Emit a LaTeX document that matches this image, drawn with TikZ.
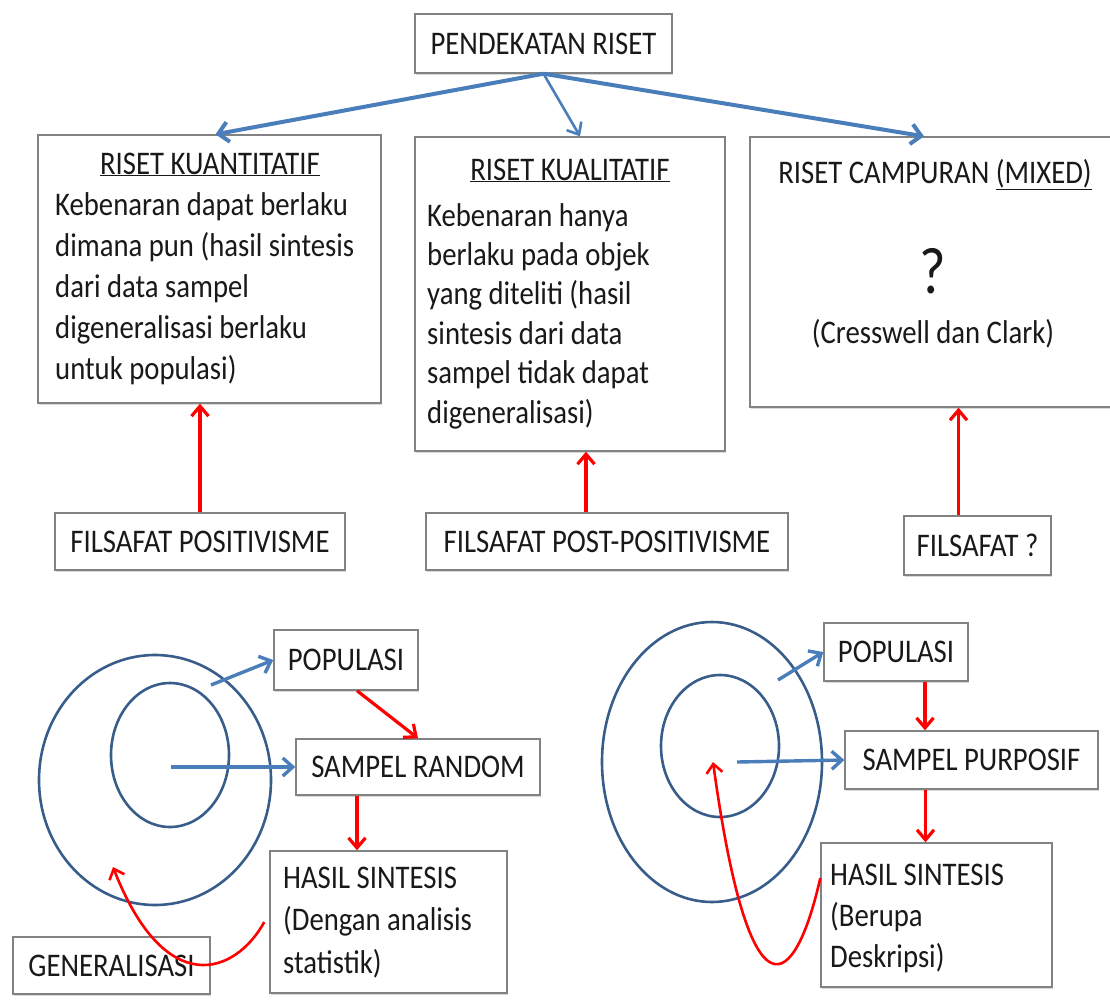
\documentclass[tikz,border=0pt]{standalone}
\usepackage{fontspec}
\setmainfont{Carlito}[FakeStretch=0.87]
\usepackage{tikz}
\usetikzlibrary{arrows.meta, shadows}
\definecolor{arrowblue}{RGB}{74,126,187}
\definecolor{ringblue}{RGB}{56,93,138}
\definecolor{boxgray}{RGB}{130,130,130}
\definecolor{textgray}{RGB}{25,25,25}
\tikzstyle{box} = [rectangle, draw=boxgray, line width=1.4pt, fill=white, inner sep=0pt, text=textgray, drop shadow={shadow xshift=1.2pt, shadow yshift=-1.8pt, opacity=0.3}]
\tikzstyle{txt} = [inner sep=0pt, text=textgray]
\tikzstyle{ring} = [draw=ringblue, line width=2.6pt]
\newcommand{\bigtxt}{\fontsize{33}{41}\selectfont}
\newcommand{\leftlines}[1]{\begin{tabular}[t]{@{}l@{}}#1\end{tabular}}

\begin{document}
\begin{tikzpicture}[x=1pt, y=-1pt, font=\bigtxt]
\useasboundingbox (0,0) rectangle (1110,999);
\clip (0,0) rectangle (1110,999);

\node (pend) [box, minimum width=257pt, minimum height=59pt] at (543.5,43.5) {PENDEKATAN RISET};

\node (kuant) [box, minimum width=343pt, minimum height=268pt] at (209.5,269) {};
\node (kuantT) [txt, anchor=base] at (210,174) {\underline{RISET KUANTITATIF}};
\node (kuantB) [txt, anchor=base west] at (55,215) {\leftlines{Kebenaran dapat berlaku\\dimana pun (hasil sintesis\\dari data sampel\\digeneralisasi berlaku\\untuk populasi)}};

\node (kual) [box, minimum width=310pt, minimum height=314pt] at (570,294) {};
\node (kualT) [txt, anchor=base] at (570,180) {\underline{RISET KUALITATIF}};
\node (kualB) [txt, anchor=base west, font=\fontsize{33}{39.4}\selectfont] at (427,226) {\leftlines{Kebenaran hanya\\berlaku pada objek\\yang diteliti (hasil\\sintesis dari data\\sampel tidak dapat\\digeneralisasi)}};

\node (mix) [box, minimum width=370pt, minimum height=270pt] at (935,272) {};
\node (mixT) [txt, anchor=base] at (935,183) {RISET CAMPURAN \underline{(MIXED)}};
\node (mixQ) [txt, anchor=base, font=\fontsize{66}{80}\selectfont] at (933,293) {?};
\node (mixC) [txt, anchor=base] at (933,343) {(Cresswell dan Clark)};

\node (fpos) [box, minimum width=290pt, minimum height=57pt] at (200,541.5) {FILSAFAT POSITIVISME};
\node (fpost) [box, minimum width=362pt, minimum height=57pt] at (607,541.5) {FILSAFAT POST-POSITIVISME};
\node (fmix) [box, minimum width=147pt, minimum height=59pt] at (977.5,545.5) {FILSAFAT ?};

\draw[arrowblue, line width=4pt, -{Straight Barb[length=10pt,width=20pt]}] (pend.south) -- ([xshift=6pt]kuant.north);
\draw[arrowblue, line width=2.6pt, -{Straight Barb[length=10pt,width=17pt]}] (pend.south) -- ([xshift=10pt]kual.north);
\draw[arrowblue, line width=4pt, -{Straight Barb[length=10pt,width=20pt]}] (pend.south) -- ([xshift=-11pt]mix.north);

\draw[red, line width=3.2pt, -{Straight Barb[length=10pt,width=17pt]}] (fpos.north) -- (fpos.north |- kuant.south);
\draw[red, line width=3.2pt, -{Straight Barb[length=10pt,width=17pt]}] ([xshift=-21pt]fpost.north) -- ([xshift=-21pt]fpost.north |- kual.south);
\draw[red, line width=3.2pt, -{Straight Barb[length=10pt,width=17pt]}] ([xshift=-19pt]fmix.north) -- ([xshift=-19pt]fmix.north |- mix.south);

\draw[ring] (155,780) ellipse [x radius=116pt, y radius=125pt];
\draw[ring] (170,755) ellipse [x radius=59pt, y radius=72pt];
\coordinate (ringA1) at (211,685);
\coordinate (ringA2) at (171,767);
\coordinate (ringA3) at (113,867);

\node (popA) [box, minimum width=144pt, minimum height=60pt] at (346,660) {POPULASI};
\node (sampA) [box, minimum width=244pt, minimum height=56pt] at (418,767) {SAMPEL RANDOM};
\node (hasilA) [box, minimum width=237pt, minimum height=142pt] at (388.5,922) {};
\node (hasilAT) [txt, anchor=base west, font=\fontsize{33}{42.5}\selectfont] at (283,888) {\leftlines{HASIL SINTESIS\\(Dengan analisis\\statistik)}};
\node (gen) [box, minimum width=197pt, minimum height=57pt] at (111.5,965.5) {GENERALISASI};

\draw[arrowblue, line width=3.4pt, -{Straight Barb[length=10pt,width=18pt]}] (ringA1) -- (popA.west);
\draw[arrowblue, line width=3.4pt, -{Straight Barb[length=10pt,width=18pt]}] (ringA2) -- (sampA.west);
\draw[red, line width=3.2pt, -{Straight Barb[length=10pt,width=17pt]}] ([xshift=11pt]popA.south) -- (sampA.north);
\draw[red, line width=3.2pt, -{Straight Barb[length=10pt,width=17pt]}] ([xshift=-61pt]sampA.south) -- ([xshift=-61pt]sampA.south |- hasilA.north);
\draw[red, line width=2.6pt, -{Straight Barb[length=9pt,width=16pt]}] ([xshift=-5pt]hasilA.west) .. controls (235,975) and (165,1000) .. (ringA3);

\draw[ring] (712,762) ellipse [x radius=110pt, y radius=140pt];
\draw[ring] (720,746) ellipse [x radius=59pt, y radius=71pt];
\coordinate (ringB1) at (778,680);
\coordinate (ringB2) at (737,762);
\coordinate (ringB3) at (713,762);

\node (popB) [box, minimum width=144pt, minimum height=58pt] at (896,652) {POPULASI};
\node (sampB) [box, minimum width=253pt, minimum height=58pt] at (971.5,760) {SAMPEL PURPOSIF};
\node (hasilB) [box, minimum width=231pt, minimum height=144pt] at (936.5,915) {};
\node (hasilBT) [txt, anchor=base west] at (830,885) {\leftlines{HASIL SINTESIS\\(Berupa\\Deskripsi)}};

\draw[arrowblue, line width=3.4pt, -{Straight Barb[length=10pt,width=18pt]}] (ringB1) -- (popB.west);
\draw[arrowblue, line width=3.4pt, -{Straight Barb[length=10pt,width=18pt]}] (ringB2) -- (sampB.west);
\draw[red, line width=3.2pt, -{Straight Barb[length=10pt,width=17pt]}] ([xshift=29pt]popB.south) -- ([xshift=29pt]popB.south |- sampB.north);
\draw[red, line width=3.2pt, -{Straight Barb[length=10pt,width=17pt]}] ([xshift=-46pt]sampB.south) -- ([xshift=-46pt]sampB.south |- hasilB.north);
\draw[red, line width=2.6pt, -{Straight Barb[length=9pt,width=16pt]}] ([yshift=37pt]hasilB.west) .. controls (795,990) and (750,1030) .. (ringB3);
\end{tikzpicture}
\end{document}
